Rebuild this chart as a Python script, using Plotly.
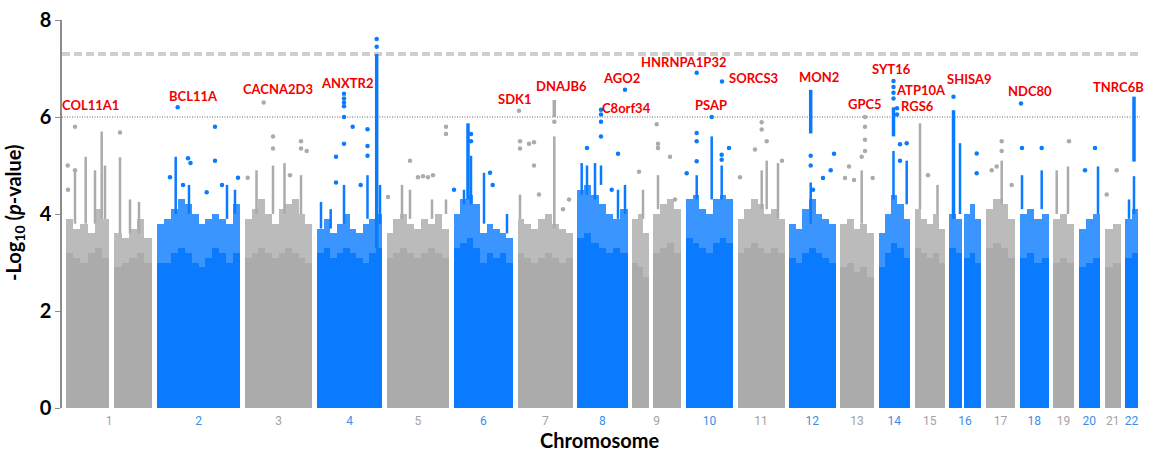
import numpy as np
import plotly.graph_objects as go

# ---------------- data ----------------
# chromosome segments (genome position index along the axis)
seg_chrom = [1, 1, 2, 3, 4, 5, 6, 7, 8, 9, 9, 10, 11, 12, 13, 14, 15, 16, 16, 17, 18, 19, 20, 21, 22]
seg_start = [4, 52, 95, 183, 255, 324.5, 391.5, 455.5, 515, 570, 591, 624, 675.5, 727, 778, 816.5,
             852.5, 887, 902, 924, 957.5, 991, 1016.5, 1042.5, 1063]
seg_end = [47, 90, 178, 250, 320, 387, 451, 511, 565.5, 587, 619, 671, 722.5, 773.5, 812, 848,
           883, 900, 919, 953, 987, 1012, 1038, 1059, 1076]

# level of the fully dense band of SNPs (per bin, per segment)
seg_solid = [
    [3.2, 3.1, 3.0, 3.2, 3.3, 3.1],
    [2.9, 3.0, 3.1, 3.2, 3.0],
    [3.0, 3.0, 3.2, 3.3, 3.2, 3.0, 2.9, 3.1, 3.3, 3.2, 3.0, 3.2],
    [3.1, 3.2, 3.3, 3.2, 3.1, 3.2, 3.3, 3.2, 3.1, 3.0],
    [3.2, 3.3, 3.1, 3.2, 3.3, 3.2, 3.1, 3.0, 3.2, 3.3],
    [3.1, 3.2, 3.3, 3.2, 3.1, 3.2, 3.3, 3.2, 3.1],
    [3.3, 3.4, 3.5, 3.3, 3.0, 3.2, 3.1, 3.2, 3.0],
    [3.2, 3.1, 3.0, 3.1, 3.2, 3.1, 3.0, 3.1],
    [3.5, 3.6, 3.4, 3.3, 3.2, 3.3, 3.2],
    [3.0, 2.9, 2.7],
    [3.2, 3.3, 3.4, 3.2],
    [3.5, 3.4, 3.3, 3.2, 3.4, 3.5, 3.4],
    [3.2, 3.3, 3.4, 3.3, 3.2, 3.3, 3.2],
    [3.1, 3.0, 3.2, 3.3, 3.2, 3.1, 3.0],
    [2.9, 3.0, 2.8, 2.9, 2.7],
    [2.9, 3.2, 3.4, 3.3, 3.1],
    [3.3, 3.2, 3.1, 3.2, 3.0],
    [3.3, 3.2],
    [3.1, 3.2, 3.0],
    [3.3, 3.4, 3.3, 3.1],
    [3.1, 3.2, 3.0, 3.1],
    [3.0, 3.1, 3.0],
    [2.9, 3.0, 3.1],
    [2.9, 3.0],
    [3.1, 3.2],
]
# top of the semi-dense fringe of SNPs
seg_fringe = [
    [3.9, 3.7, 3.8, 3.6, 4.1, 3.9],
    [3.6, 3.5, 3.7, 3.9, 3.5],
    [3.8, 3.9, 4.1, 4.3, 4.2, 4.0, 3.8, 3.9, 4.0, 3.9, 3.8, 4.2],
    [3.9, 4.1, 4.3, 4.0, 3.8, 4.1, 4.2, 4.3, 4.0, 3.8],
    [3.7, 3.9, 3.6, 3.8, 4.0, 3.7, 3.6, 3.8, 3.9, 4.0],
    [3.6, 3.9, 4.0, 3.8, 3.7, 3.9, 3.8, 4.0, 3.7],
    [4.0, 4.3, 4.4, 4.2, 3.6, 3.8, 3.7, 3.6, 3.5],
    [3.9, 3.8, 3.7, 3.9, 4.0, 3.8, 3.7, 3.6],
    [4.5, 4.6, 4.4, 4.2, 4.0, 3.9, 4.1],
    [3.9, 4.0, 3.6],
    [4.0, 4.2, 4.3, 4.1],
    [4.3, 4.4, 4.1, 4.0, 4.3, 4.4, 4.3],
    [3.9, 4.1, 4.3, 4.2, 4.0, 4.1, 3.9],
    [3.8, 3.7, 4.1, 4.3, 4.0, 3.9, 3.8],
    [3.8, 3.9, 3.7, 3.8, 3.6],
    [3.6, 4.0, 4.4, 4.2, 3.9],
    [4.1, 3.9, 3.8, 4.0, 3.7],
    [4.0, 3.9],
    [4.0, 4.2, 3.9],
    [4.1, 4.3, 4.2, 3.9],
    [4.0, 4.1, 3.9, 4.0],
    [3.9, 4.0, 3.8],
    [3.7, 3.9, 4.0],
    [3.7, 3.8],
    [3.9, 4.1],
]

# columns of SNPs (position, lowest, highest -log10 p)
spike_pos = [13, 23.7, 33, 39.7, 43, 58, 68, 77, 113.7, 127, 165, 173, 194.5, 211, 222.5, 239,
             259, 268.7, 282, 305.5, 318, 340, 348, 370, 384, 402, 409, 422, 445, 458, 492.3,
             519.7, 525, 533, 539, 556, 563, 581, 596, 634.7, 649.7, 659.7, 699.7, 704.7, 716,
             748.7, 799.7, 831.5, 844.7, 858, 875.5, 898, 939.7, 960, 979.7, 994.7, 1006, 1036,
             1072, 1067]
spike_lo = [3.8, 3.8, 3.8, 3.9, 3.9, 3.6, 3.6, 3.6, 4.0, 4.0, 3.9, 4.0, 4.0, 4.0, 4.0, 4.0,
            3.7, 3.7, 3.8, 3.9, 3.8, 3.9, 3.9, 3.9, 4.0, 4.2, 4.2, 3.8, 3.6, 3.9, 3.7,
            4.4, 4.4, 4.3, 4.6, 3.9, 4.0, 3.9, 4.1, 4.3, 4.3, 4.3, 4.1, 4.1, 3.9,
            3.8, 3.8, 4.3, 4.2, 4.1, 4.0, 4.0, 4.2, 4.1, 4.1, 4.0, 4.0, 4.0,
            4.0, 3.9]
spike_hi = [4.9, 5.18, 4.9, 5.7, 5.0, 5.17, 4.3, 4.25, 5.18, 4.6, 4.6, 4.5, 4.9, 5.0, 5.05, 4.8,
            4.25, 4.1, 4.6, 4.8, 4.6, 4.6, 4.5, 4.3, 4.3, 4.5, 5.2, 4.85, 4.0, 4.4, 5.6,
            5.05, 5.0, 5.05, 5.0, 4.5, 4.6, 4.5, 4.8, 4.8, 5.6, 5.0, 4.9, 5.1, 5.05,
            4.65, 4.9, 5.3, 5.1, 5.87, 4.6, 5.46, 5.1, 4.8, 4.9, 4.9, 4.98, 4.98,
            4.78, 4.3]

# densely packed columns at the association peaks
peak_pos = [314.7, 406, 492.3, 748.7, 831.5, 891.5, 1072]
peak_lo = [3.3, 4.3, 6.0, 5.66, 5.6, 3.9, 5.08]
peak_hi = [7.3, 5.87, 6.35, 6.56, 6.2, 6.14, 6.42]

# isolated SNPs (position, -log10 p)
point_pos = [5.7, 13, 13, 58, 6,
             108, 115.7, 121, 126, 128.5, 144.7, 153, 153, 160, 176,
             185.7, 201.7, 211, 211, 239, 239, 244.7, 228,
             282, 282, 282, 282, 282, 282, 274, 274, 290.7, 298.7, 305.5, 305.5, 305.5, 314.7, 314.7,
             326, 348, 356, 361, 366, 371, 384, 384,
             392, 409, 409, 428, 430.7,
             457, 458, 458, 467, 472, 472, 477, 492.3, 501, 507,
             563, 539, 539, 539, 539, 525, 549.7, 556,
             577, 594.7, 596, 596, 608, 613,
             634.7, 660, 649.7, 624.7, 634.7, 634.7, 634.7, 659.7, 659.7, 667,
             699.7, 699.7, 704.7, 678, 693, 720,
             748.7, 748.7, 751, 761, 768.7, 772,
             799.7, 803, 803, 803, 803, 783, 787, 792, 810.7,
             831.5, 831.5, 831.5, 831.5, 835, 835, 838, 838, 844.7,
             866, 891.5, 914.7, 914.7,
             929.7, 934.7, 939.7, 939.7, 949.7,
             959, 960, 979.7, 1007, 1023, 1033, 1054.7, 1044.7]
point_val = [5.0, 5.8, 4.9, 5.68, 4.5,
             4.76, 6.2, 4.6, 5.15, 5.05, 4.45, 5.8, 5.1, 4.6, 4.75,
             4.75, 6.3, 5.6, 5.35, 5.5, 5.35, 5.3, 4.8,
             6.48, 6.38, 6.3, 6.22, 6.0, 5.45, 5.18, 4.65, 5.8, 4.6, 5.75, 5.4, 5.2, 7.61, 7.45,
             4.35, 5.1, 4.76, 4.78, 4.76, 4.8, 5.8, 5.65,
             4.5, 5.65, 5.5, 4.85, 4.6,
             6.13, 5.5, 5.35, 5.45, 5.48, 5.0, 4.4, 5.9, 4.1, 4.3,
             6.56, 6.15, 6.05, 5.9, 5.6, 5.36, 4.5, 5.24,
             4.87, 5.85, 5.45, 5.36, 5.18, 4.3,
             6.91, 6.73, 6.0, 4.84, 5.67, 5.5, 5.09, 5.22, 5.12, 5.36,
             5.89, 5.74, 5.5, 4.76, 5.33, 5.1,
             5.2, 5.0, 4.5, 4.74, 4.9, 5.24,
             5.18, 6.0, 5.8, 5.53, 5.3, 4.74, 4.98, 4.7, 4.74,
             6.74, 6.62, 6.5, 6.38, 6.18, 6.05, 5.44, 5.1, 5.46,
             4.8, 6.42, 5.25, 4.84,
             4.9, 4.98, 5.5, 5.3, 4.6,
             6.28, 5.36, 5.36, 5.5, 4.9, 5.36, 4.9, 4.4]

# gene labels
gene_names = ["COL11A1", "BCL11A", "CACNA2D3", "ANXTR2", "GPM6A", "SDK1", "DNAJB6", "AGO2",
              "C8orf34", "HNRNPA1P32", "SORCS3", "PSAP", "MON2", "GPC5", "SYT16", "ATP10A",
              "RGS6", "SHISA9", "NDC80", "TNRC6B"]
gene_pos = [28.5, 131, 216, 284.5, 324, 452.5, 499, 559.7, 564.7, 622, 691, 648.5, 756.8,
            802.7, 829.3, 859.3, 855.5, 907.7, 968, 1056]
gene_val = [6.25, 6.44, 6.57, 6.71, 8.02, 6.37, 6.64, 6.81, 6.18, 7.13, 6.8, 6.25, 6.82,
            6.27, 7.0, 6.56, 6.23, 6.78, 6.54, 6.61]

genome_wide = 7.3
suggestive = 6.0

# ---------------- style ----------------
BLUE = "#0A7BFF"
GREY = "#ABABAB"
TICK_BLUE = "#3A8DE8"
TICK_GREY = "#A3A3A3"
RED = "#F20000"
FONT = "Lato, Open Sans, sans-serif"


def chrom_color(c):
    return BLUE if c % 2 == 0 else GREY


def color_at(p):
    best, bd = 1, 1e9
    for c, s, e in zip(seg_chrom, seg_start, seg_end):
        d = 0 if s <= p <= e else min(abs(p - s), abs(p - e))
        if d < bd:
            best, bd = c, d
    return chrom_color(best)


fig = go.Figure()

# dense bands as bars
bx, bw, bs, bf, bc = [], [], [], [], []
for c, s, e, sol, fr in zip(seg_chrom, seg_start, seg_end, seg_solid, seg_fringe):
    edges = np.linspace(s, e, len(sol) + 1)
    for i in range(len(sol)):
        bx.append((edges[i] + edges[i + 1]) / 2)
        bw.append(edges[i + 1] - edges[i])
        bs.append(sol[i])
        bf.append(fr[i] - sol[i])
        bc.append(chrom_color(c))

fig.add_trace(go.Bar(x=bx, y=bs, width=bw, base=0, marker=dict(color=bc, line=dict(width=0)),
                     hoverinfo="skip"))
fig.add_trace(go.Bar(x=bx, y=bf, width=bw, base=bs, marker=dict(color=bc, line=dict(width=0)),
                     opacity=0.8, hoverinfo="skip"))


def add_columns(pos, lo, hi, width):
    for col in (GREY, BLUE):
        xs, ys = [], []
        for p, a, b in zip(pos, lo, hi):
            if color_at(p) == col:
                xs += [p, p, None]
                ys += [a, b, None]
        fig.add_trace(go.Scatter(x=xs, y=ys, mode="lines", line=dict(color=col, width=width),
                                 hoverinfo="skip"))


add_columns(spike_pos, spike_lo, spike_hi, 2.5)
add_columns(peak_pos, peak_lo, peak_hi, 3.5)

fig.add_trace(go.Scatter(x=point_pos, y=point_val, mode="markers",
                         marker=dict(size=4.5, color=[color_at(p) for p in point_pos]),
                         hoverinfo="skip"))

# threshold lines
fig.add_shape(type="line", xref="x", yref="y", x0=0, x1=1078, y0=genome_wide, y1=genome_wide,
              line=dict(color="#CFCFCF", width=4, dash="8px,4px"), layer="below")
fig.add_shape(type="line", xref="x", yref="y", x0=0, x1=1078, y0=suggestive, y1=suggestive,
              line=dict(color="#666666", width=1, dash="1px,1.5px"), layer="below")

# gene labels
for name, p, v in zip(gene_names, gene_pos, gene_val):
    fig.add_annotation(x=p, y=v, text=f"<b>{name}</b>", showarrow=False,
                       xanchor="center", yanchor="middle",
                       font=dict(family=FONT, size=25 if name == "GPM6A" else 13, color=RED))

# axis titles
fig.add_annotation(xref="paper", yref="paper", x=-0.0435, y=0.5026, textangle=-90,
                   xanchor="center", yanchor="middle",
                   text="<b>-Log<sub>10</sub> (<i>p</i>-value)</b>", showarrow=False,
                   font=dict(family=FONT, size=20, color="black"))
fig.add_annotation(xref="paper", yref="paper", x=0.498, y=-0.0825,
                   xanchor="center", yanchor="middle",
                   text="<b>Chromosome</b>", showarrow=False,
                   font=dict(family=FONT, size=20, color="black"))

# chromosome ticks
chroms = sorted(set(seg_chrom))
mids, labels = [], []
for c in chroms:
    s = min(st for cc, st in zip(seg_chrom, seg_start) if cc == c)
    e = max(en for cc, en in zip(seg_chrom, seg_end) if cc == c)
    mids.append((s + e) / 2)
    col = TICK_BLUE if c % 2 == 0 else TICK_GREY
    labels.append(f'<span style="color:{col}">{c}</span>')

fig.update_layout(
    width=1152, height=455,
    margin=dict(l=62, r=10, t=20, b=47),
    plot_bgcolor="white", paper_bgcolor="white",
    showlegend=False, barmode="overlay", bargap=0,
    font=dict(family=FONT, color="black"),
    xaxis=dict(range=[0, 1080], showline=False, showgrid=False, zeroline=False, automargin=False,
               tickvals=mids, ticktext=labels, ticks="", ticklabelstandoff=4,
               tickfont=dict(family="Liberation Sans Narrow, Roboto, sans-serif", size=12)),
    yaxis=dict(range=[0, 8], showline=True, linecolor="#8C8C8C", linewidth=1.5, automargin=False,
               ticks="outside", ticklen=5, tickcolor="#8C8C8C", tickwidth=1.2,
               tickvals=[0, 2, 4, 6, 8], ticktext=["<b>0</b>", "<b>2</b>", "<b>4</b>", "<b>6</b>", "<b>8</b>"],
               tickfont=dict(size=20, family=FONT, color="black"),
               showgrid=False, zeroline=False),
)

fig.write_html("out.html", config={"displayModeBar": False},
               post_script="document.body.style.margin='0px';")
